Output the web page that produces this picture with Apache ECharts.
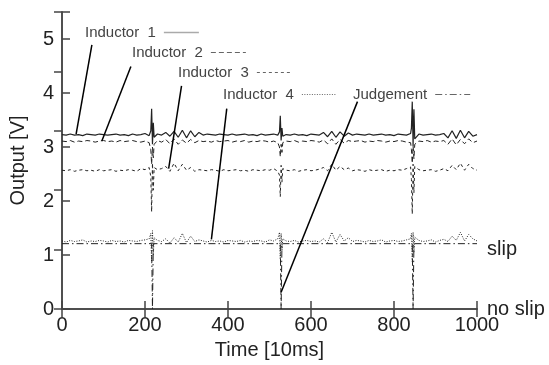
<!DOCTYPE html>
<html>
<head>
<meta charset="utf-8">
<script src="https://cdn.jsdelivr.net/npm/echarts@6/dist/echarts.min.js"></script>
<style>
  html, body { margin: 0; padding: 0; background: #fff; }
  #chart { width: 549px; height: 365px; }
</style>
</head>
<body>
<div id="chart"></div>
<script>
// sample times [10ms]
const time = [
  0, 10, 20, 30, 40, 50, 60, 70, 80, 90, 100, 110, 120, 130, 140, 150, 160, 170, 180, 190, 200, 210,
  214, 216, 218, 220, 222,
  230, 240, 250, 260, 270, 280, 290, 300, 310, 320, 330, 340, 350, 360, 370, 380, 390, 400, 410,
  420, 430, 440, 450, 460, 470, 480, 490, 500, 510, 520,
  524, 526, 528, 530, 532,
  540, 550, 560, 570, 580, 590, 600, 610, 620, 630, 640, 650, 660, 670, 680, 690, 700, 710, 720,
  730, 740, 750, 760, 770, 780, 790, 800, 810, 820, 830, 840,
  842, 844, 846, 848, 850,
  860, 870, 880, 890, 900, 910, 920, 930, 940, 950, 960, 970, 980, 990, 1000
];

const inductor1 = [
  3.23, 3.22, 3.24, 3.22, 3.23, 3.21, 3.24, 3.23, 3.22, 3.24, 3.23, 3.22, 3.23, 3.24, 3.22, 3.23, 3.21, 3.24, 3.22, 3.23, 3.25, 3.21,
  3.30, 3.71, 3.05, 3.45, 3.18,
  3.24, 3.22, 3.27, 3.20, 3.29, 3.18, 3.31, 3.17, 3.30, 3.19, 3.27, 3.22, 3.24, 3.23, 3.22, 3.24, 3.23, 3.22, 3.24,
  3.22, 3.23, 3.24, 3.22, 3.23, 3.21, 3.24, 3.22, 3.23, 3.24, 3.22,
  3.28, 3.58, 3.12, 3.35, 3.20,
  3.23, 3.22, 3.24, 3.22, 3.23, 3.21, 3.24, 3.23, 3.22, 3.27, 3.19, 3.29, 3.18, 3.28, 3.20, 3.26, 3.22, 3.24, 3.23,
  3.22, 3.24, 3.22, 3.23, 3.24, 3.22, 3.23, 3.21, 3.24, 3.23, 3.22, 3.25,
  3.35, 3.84, 3.02, 3.70, 3.15,
  3.24, 3.22, 3.23, 3.24, 3.22, 3.23, 3.25, 3.17, 3.30, 3.16, 3.31, 3.17, 3.29, 3.20, 3.23
];

const inductor2 = [
  3.11, 3.10, 3.12, 3.09, 3.11, 3.10, 3.12, 3.11, 3.09, 3.11, 3.12, 3.10, 3.11, 3.09, 3.12, 3.10, 3.11, 3.12, 3.10, 3.09, 3.11, 3.08,
  2.95, 2.68, 3.00, 2.80, 3.05,
  3.12, 3.09, 3.14, 3.06, 3.15, 3.05, 3.13, 3.07, 3.14, 3.08, 3.12, 3.10, 3.11, 3.09, 3.12, 3.10, 3.11, 3.12, 3.09,
  3.11, 3.10, 3.12, 3.09, 3.11, 3.10, 3.12, 3.11, 3.09, 3.11, 3.08,
  3.00, 2.82, 3.05, 2.90, 3.08,
  3.11, 3.10, 3.12, 3.09, 3.11, 3.10, 3.12, 3.11, 3.09, 3.13, 3.06, 3.15, 3.05, 3.14, 3.07, 3.12, 3.10, 3.11, 3.12,
  3.09, 3.11, 3.10, 3.12, 3.11, 3.09, 3.11, 3.10, 3.12, 3.11, 3.09, 3.08,
  2.95, 2.70, 3.02, 2.78, 3.05,
  3.11, 3.10, 3.12, 3.09, 3.11, 3.10, 3.12, 3.05, 3.15, 3.04, 3.14, 3.06, 3.15, 3.08, 3.11
];

const inductor3 = [
  2.57, 2.56, 2.58, 2.55, 2.57, 2.58, 2.56, 2.57, 2.55, 2.58, 2.56, 2.57, 2.58, 2.55, 2.57, 2.56, 2.58, 2.57, 2.55, 2.60, 2.58, 2.62,
  2.45, 1.80, 2.70, 2.20, 2.62,
  2.58, 2.60, 2.64, 2.55, 2.70, 2.56, 2.68, 2.57, 2.62, 2.55, 2.58, 2.57, 2.56, 2.58, 2.57, 2.55, 2.58, 2.56, 2.57,
  2.58, 2.56, 2.57, 2.55, 2.58, 2.57, 2.56, 2.58, 2.57, 2.60, 2.55,
  2.48, 2.08, 2.66, 2.35, 2.60,
  2.57, 2.56, 2.58, 2.55, 2.57, 2.58, 2.56, 2.57, 2.59, 2.62, 2.56, 2.68, 2.57, 2.64, 2.58, 2.61, 2.56, 2.58, 2.57,
  2.55, 2.58, 2.56, 2.57, 2.58, 2.55, 2.57, 2.56, 2.58, 2.57, 2.60, 2.63,
  2.40, 1.76, 2.68, 2.15, 2.64,
  2.58, 2.56, 2.57, 2.58, 2.55, 2.57, 2.60, 2.56, 2.66, 2.58, 2.70, 2.57, 2.68, 2.60, 2.57
];

const inductor4 = [
  1.26, 1.24, 1.27, 1.25, 1.26, 1.28, 1.24, 1.26, 1.25, 1.27, 1.26, 1.24, 1.27, 1.25, 1.26, 1.24, 1.27, 1.26, 1.25, 1.27, 1.28, 1.30,
  1.40, 0.85, 1.45, 1.00, 1.32,
  1.27, 1.25, 1.30, 1.22, 1.32, 1.24, 1.40, 1.23, 1.35, 1.25, 1.28, 1.26, 1.24, 1.27, 1.25, 1.26, 1.24, 1.27, 1.26,
  1.25, 1.27, 1.24, 1.26, 1.25, 1.27, 1.26, 1.24, 1.28, 1.26, 1.30,
  1.42, 0.92, 1.40, 1.08, 1.30,
  1.26, 1.25, 1.27, 1.24, 1.26, 1.27, 1.25, 1.26, 1.24, 1.30, 1.23, 1.42, 1.24, 1.38, 1.26, 1.32, 1.25, 1.27, 1.26,
  1.24, 1.27, 1.25, 1.26, 1.28, 1.24, 1.26, 1.27, 1.25, 1.26, 1.28, 1.30,
  1.40, 0.88, 1.42, 1.05, 1.33,
  1.27, 1.25, 1.26, 1.28, 1.24, 1.27, 1.29, 1.25, 1.35, 1.27, 1.42, 1.26, 1.38, 1.30, 1.26
];

// judgement: slip / no slip (right axis)
const judgeTime = [0, 216, 218, 220, 526, 528, 530, 844, 846, 848, 1000];
const judgement = [1.21, 1.21, 0, 1.21, 1.21, 0, 1.21, 1.21, 0, 1.21, 1.21];

const seriesNames = ['Inductor 1', 'Inductor 2', 'Inductor 3', 'Inductor 4', 'Judgement'];
const rightLabels = { 0: 'no slip', 1.1: 'slip' };

// leader lines from legend labels to the traces [time, volts]
const leaderFrom = [[72, 4.89], [166, 4.49], [288, 4.13], [397, 3.71], [712, 3.84]];
const leaderTo = [[34, 3.24], [96, 3.11], [257, 2.60], [360, 1.29], [528, 0.31]];

// layout of the staggered legend labels
const legendPos = [[85, 25], [132, 45], [178, 65], [223, 87], [353, 87]];
const dashes = ['solid', [5, 3], [3, 3], [1, 1.5], [7, 3, 1.5, 3]];

const FONT = 'Liberation Sans';
const AXIS = { color: '#444', width: 1.5 };

const chart = echarts.init(document.getElementById('chart'));

const traces = [inductor1, inductor2, inductor3, inductor4];

const series = traces.map((vals, i) => ({
  name: seriesNames[i],
  type: 'line',
  data: time.map((t, k) => [t, vals[k]]),
  symbol: 'none',
  silent: true,
  lineStyle: { color: '#222', width: i === 0 ? 1.2 : 1, type: dashes[i] },
  itemStyle: { color: '#222' },
}));

series.push({
  name: seriesNames[4],
  type: 'line',
  yAxisIndex: 1,
  data: judgeTime.map((t, k) => [t, judgement[k]]),
  symbol: 'none',
  silent: true,
  lineStyle: { color: '#222', width: 1, type: dashes[4] },
  itemStyle: { color: '#222' },
});

series.push({
  name: 'leaders',
  type: 'line',
  data: [],
  silent: true,
  markLine: {
    silent: true,
    symbol: 'none',
    animation: false,
    label: { show: false },
    lineStyle: { color: '#000', width: 1.5, type: 'solid' },
    data: leaderFrom.map((p, i) => [{ coord: p }, { coord: leaderTo[i] }]),
  },
});

const option = {
  animation: false,
  backgroundColor: '#fff',
  grid: { left: 61, right: 72, top: 12, bottom: 51 },
  legend: seriesNames.map((n, i) => ({
    data: [n],
    left: legendPos[i][0],
    top: legendPos[i][1],
    align: 'right',
    padding: 0,
    itemWidth: 35,
    itemHeight: 14,
    selectedMode: false,
    formatter: (name) => name.replace(' ', '  '),
    textStyle: { fontSize: 15, color: '#444', fontFamily: FONT, padding: [0, 3, 0, 0] },
    itemStyle: { opacity: 0 },
    lineStyle: i === 0 ? { color: '#aaa', width: 1.5 } : { color: '#666', width: 1 },
  })),
  xAxis: [
    {
      type: 'value', min: 0, max: 1000, interval: 200, position: 'bottom',
      axisLine: { show: true, lineStyle: AXIS },
      axisTick: { show: true, inside: true, length: 8, lineStyle: AXIS },
      axisLabel: { fontSize: 20, color: '#222', margin: 6, fontFamily: FONT, formatter: (v) => String(v) },
      splitLine: { show: false },
      name: 'Time [10ms]', nameLocation: 'middle', nameGap: 31,
      nameTextStyle: { fontSize: 20, color: '#222', fontFamily: FONT },
    },
    {
      type: 'value', min: 0, max: 1000, interval: 200, position: 'top',
      axisLine: { show: true, lineStyle: AXIS },
      axisTick: { show: true, inside: true, length: 8, lineStyle: AXIS },
      axisLabel: { show: false },
      splitLine: { show: false },
    },
  ],
  yAxis: [
    {
      type: 'value', min: 0, max: 5.5, interval: 1, position: 'left',
      axisLine: { show: true, lineStyle: AXIS },
      axisTick: { show: true, inside: true, length: 8, lineStyle: AXIS },
      axisLabel: {
        fontSize: 20, color: '#222', margin: 8, fontFamily: FONT,
        formatter: (v) => (Number.isInteger(v) ? String(v) : ''),
      },
      splitLine: { show: false },
      name: 'Output [V]', nameLocation: 'middle', nameGap: 34, nameRotate: 90,
      nameTextStyle: { fontSize: 20, color: '#222', fontFamily: FONT },
    },
    {
      type: 'value', min: 0, max: 5.5, interval: 1.1, position: 'right',
      axisLine: { show: true, lineStyle: AXIS },
      axisTick: { show: true, inside: true, length: 8, lineStyle: AXIS },
      axisLabel: {
        fontSize: 20, color: '#222', margin: 10, fontFamily: FONT,
        formatter: (v) => rightLabels[Math.round(v * 10) / 10] || '',
      },
      splitLine: { show: false },
    },
  ],
  series,
};

chart.setOption(option);
</script>
</body>
</html>
